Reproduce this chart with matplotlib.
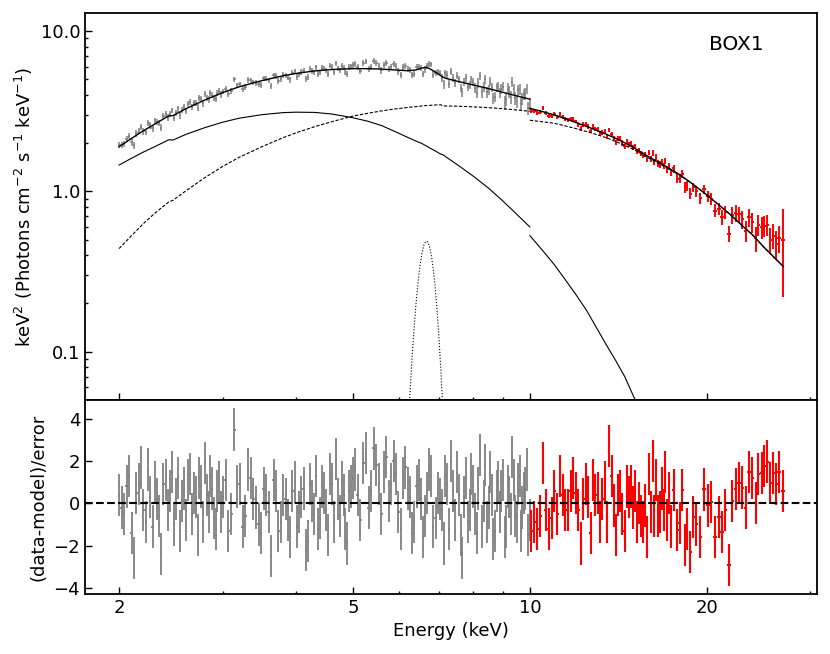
import matplotlib
matplotlib.use("Agg")
import matplotlib.pyplot as plt
import numpy as np
from matplotlib.ticker import FixedLocator, FixedFormatter, NullFormatter

# ---- model curves ----
# low-energy instrument (grey), 2-10 keV
mod_g_e = [2.0, 2.1, 2.2, 2.3, 2.43, 2.47, 2.6, 2.8, 3.0, 3.2, 3.5, 3.8, 4.0, 4.3, 4.6,
           5.0, 5.3, 5.6, 5.9, 6.2, 6.4, 6.55, 6.65, 6.75, 6.9, 7.05, 7.12, 7.2, 7.5,
           8.0, 8.5, 9.0, 9.5, 10.0]
mod_g_total = [1.90, 2.14, 2.39, 2.63, 2.96, 2.97, 3.28, 3.72, 4.13, 4.49, 4.91, 5.26, 5.44,
               5.64, 5.76, 5.83, 5.83, 5.79, 5.72, 5.66, 5.72, 5.88, 5.94, 5.84, 5.56, 5.28,
               5.15, 5.07, 4.88, 4.62, 4.38, 4.15, 3.94, 3.76]
mod_g_bb = [1.46, 1.61, 1.76, 1.90, 2.10, 2.09, 2.27, 2.50, 2.70, 2.86, 3.01, 3.10, 3.12,
            3.11, 3.04, 2.88, 2.74, 2.57, 2.36, 2.17, 2.06, 1.99, 1.93, 1.87, 1.79, 1.71,
            1.69, 1.64, 1.48, 1.25, 1.05, 0.87, 0.72, 0.60]
mod_g_cont = [0.44, 0.53, 0.63, 0.73, 0.86, 0.88, 1.01, 1.22, 1.43, 1.63, 1.90, 2.16, 2.32,
              2.53, 2.72, 2.95, 3.07, 3.18, 3.27, 3.34, 3.38, 3.41, 3.43, 3.44, 3.46, 3.47,
              3.42, 3.41, 3.40, 3.37, 3.33, 3.28, 3.22, 3.16]
line_e = [6.20, 6.25, 6.30, 6.35, 6.40, 6.45, 6.50, 6.55, 6.60, 6.65, 6.70, 6.75, 6.80,
          6.85, 6.90, 6.95, 7.00, 7.05, 7.10, 7.15]
line_f = [0.031, 0.054, 0.089, 0.136, 0.197, 0.268, 0.341, 0.409, 0.461, 0.488, 0.485,
          0.452, 0.397, 0.327, 0.253, 0.184, 0.126, 0.081, 0.049, 0.027]

# high-energy instrument (red), 10-27 keV
mod_r_e = [10.0, 10.5, 11.0, 11.5, 12.0, 12.5, 13.0, 13.5, 14.0, 14.5, 15.0, 15.5, 16.0,
           17.0, 18.0, 19.0, 20.0, 21.0, 22.0, 23.0, 24.0, 25.0, 26.0, 27.0]
mod_r_total = [3.30, 3.15, 3.00, 2.84, 2.68, 2.54, 2.40, 2.27, 2.14, 2.01, 1.88, 1.75, 1.63,
               1.44, 1.27, 1.10, 0.95, 0.82, 0.71, 0.61, 0.53, 0.45, 0.39, 0.34]
mod_r_cont = [2.78, 2.72, 2.66, 2.56, 2.46, 2.36, 2.26, 2.16, 2.05, 1.94, 1.83, 1.71, 1.60,
              1.42, 1.26, 1.10, 0.95, 0.82, 0.71, 0.61, 0.53, 0.45, 0.39, 0.34]
mod_r_bb_e = [10.0, 10.5, 11.0, 11.5, 12.0, 12.5, 13.0, 13.5, 14.0, 14.5, 15.0, 15.5]
mod_r_bb = [0.53, 0.43, 0.35, 0.28, 0.225, 0.18, 0.14, 0.11, 0.088, 0.07, 0.053, 0.041]

# ---- grey spectrum ----
gray_e = [2.00, 2.02, 2.04, 2.06, 2.08, 2.10, 2.12, 2.14, 2.16, 2.18,
          2.20, 2.22, 2.24, 2.26, 2.28, 2.30, 2.32, 2.34, 2.36, 2.38,
          2.40, 2.42, 2.44, 2.46, 2.48, 2.50, 2.52, 2.54, 2.56, 2.58,
          2.60, 2.62, 2.64, 2.66, 2.68, 2.70, 2.72, 2.74, 2.76, 2.78,
          2.80, 2.82, 2.84, 2.86, 2.88, 2.90, 2.92, 2.94, 2.96, 2.98,
          3.00, 3.035, 3.07, 3.105, 3.14, 3.175, 3.21, 3.245, 3.28, 3.315,
          3.35, 3.385, 3.42, 3.455, 3.49, 3.525, 3.56, 3.595, 3.63, 3.665,
          3.70, 3.735, 3.77, 3.805, 3.84, 3.875, 3.91, 3.945, 3.98, 4.015,
          4.05, 4.085, 4.12, 4.155, 4.19, 4.225, 4.26, 4.295, 4.33, 4.365,
          4.40, 4.435, 4.47, 4.505, 4.54, 4.575, 4.61, 4.645, 4.68, 4.715,
          4.75, 4.785, 4.82, 4.855, 4.89, 4.925, 4.96, 5.00,
          5.04, 5.095, 5.15, 5.205, 5.26, 5.315, 5.37, 5.425, 5.48, 5.535,
          5.59, 5.645, 5.70, 5.755, 5.81, 5.865, 5.92, 5.975, 6.03, 6.085,
          6.14, 6.195, 6.25, 6.305, 6.36, 6.415, 6.47, 6.525, 6.58, 6.635,
          6.69, 6.745, 6.80, 6.855, 6.91, 6.965, 7.02, 7.075, 7.13, 7.185,
          7.24, 7.295, 7.35, 7.405, 7.46, 7.515, 7.57, 7.625, 7.68, 7.735,
          7.79, 7.845, 7.90, 7.955, 8.01, 8.065, 8.12, 8.175, 8.23, 8.285,
          8.34, 8.395, 8.45, 8.505, 8.56, 8.615, 8.67, 8.725, 8.78, 8.835,
          8.89, 8.945, 9.00, 9.055, 9.11, 9.165, 9.22, 9.275, 9.33, 9.385,
          9.44, 9.495, 9.55, 9.605, 9.66, 9.715, 9.77, 9.825, 9.88, 9.935,
          9.99]
gray_flux = [1.95, 1.95, 1.97, 2.13, 2.23, 2.02, 1.94, 2.30, 2.39, 2.53,
             2.37, 2.35, 2.68, 2.58, 2.47, 2.77, 2.72, 2.68, 2.50, 2.96,
             3.03, 2.89, 3.05, 3.20, 2.88, 3.10, 3.29, 2.98, 3.22, 3.36,
             3.18, 3.51, 3.60, 3.36, 3.56, 3.57, 3.33, 3.81, 3.79, 3.55,
             4.06, 3.85, 3.75, 4.09, 4.02, 3.82, 3.77, 4.13, 4.24, 4.03,
             4.19, 4.38, 4.05, 4.24, 5.00, 4.59, 4.66, 4.35, 4.49, 4.95,
             4.93, 4.79, 4.76, 4.66, 4.62, 5.07, 5.05, 4.93, 4.55, 5.31,
             5.24, 4.89, 5.00, 5.31, 5.30, 5.13, 4.99, 5.50, 5.62, 5.19,
             5.37, 5.56, 5.66, 5.05, 5.16, 5.79, 5.63, 5.52, 5.94, 5.40,
             5.53, 5.89, 5.84, 5.68, 5.41, 6.09, 5.99, 5.58, 6.29, 5.86,
             5.68, 6.06, 5.92, 5.56, 5.40, 5.99, 6.04, 6.13,
             6.27, 5.95, 5.64, 6.34, 6.48, 5.78, 6.00, 6.50, 6.30, 6.03,
             5.68, 6.17, 6.34, 5.78, 5.96, 6.25, 6.05, 5.60, 5.34, 5.99,
             6.06, 5.84, 5.70, 5.33, 5.41, 5.94, 5.98, 5.90, 5.40, 5.77,
             6.08, 6.27, 6.19, 5.35, 5.47, 5.57, 5.50, 5.13, 4.66, 5.44,
             5.33, 4.67, 5.57, 5.09, 4.74, 5.27, 5.01, 4.41, 4.15, 4.83,
             5.10, 4.47, 4.62, 5.00, 4.83, 4.43, 4.13, 4.76, 5.26, 4.14,
             4.51, 4.99, 4.15, 4.32, 4.84, 4.45, 3.81, 3.89, 4.46, 4.53,
             4.11, 4.36, 4.50, 3.57, 3.75, 4.37, 4.20, 3.87, 4.82, 4.37,
             3.81, 3.66, 4.28, 4.34, 3.50, 3.80, 4.04, 4.06, 4.35, 3.30,
             3.53]
gray_err = [.086, .088, .090, .093, .095, .097, .099, .101, .104, .106,
            .108, .110, .113, .115, .117, .119, .122, .124, .126, .128,
            .130, .132, .134, .135, .136, .138, .140, .142, .144, .146,
            .149, .151, .153, .155, .157, .159, .161, .163, .165, .167,
            .168, .170, .172, .174, .176, .177, .179, .181, .183, .185,
            .166, .168, .171, .173, .176, .178, .180, .182, .184, .186,
            .188, .190, .192, .194, .196, .197, .199, .200, .202, .204,
            .205, .206, .208, .209, .210, .212, .213, .215, .216, .217,
            .218, .219, .220, .221, .222, .223, .224, .225, .226, .227,
            .228, .228, .229, .230, .230, .231, .231, .232, .232, .232,
            .233, .233, .233, .234, .234, .234, .234, .240,
            .263, .263, .263, .263, .263, .262, .263, .262, .262, .261,
            .261, .260, .260, .259, .258, .258, .256, .257, .254, .256,
            .253, .255, .253, .256, .254, .258, .257, .263, .262, .267,
            .268, .263, .263, .253, .254, .245, .245, .287, .286, .279,
            .279, .275, .276, .271, .273, .268, .270, .265, .266, .261,
            .263, .259, .259, .255, .255, .321, .321, .318, .317, .314,
            .314, .310, .310, .307, .307, .303, .303, .300, .300, .296,
            .296, .293, .293, .351, .352, .348, .349, .343, .345, .340,
            .342, .337, .338, .332, .334, .329, .330, .326, .326, .321,
            .322]
gray_resid = [0.4, -0.2, -0.5, 0.8, 1.3, -1.4, -2.6, 0.5, 0.9, 1.7,
              -0.3, -0.9, 1.6, 0.3, -1.1, 1.0, 0.2, -0.6, -2.4, 0.9,
              1.1, -0.3, 0.6, 1.5, -1.0, 0.2, 1.2, -1.3, 0.1, 0.7,
              -0.8, 1.1, 1.4, -0.5, 0.5, 0.3, -1.5, 1.2, 0.8, -0.9,
              1.9, 0.4, -0.4, 1.3, 0.7, -0.7, -1.2, 0.6, 1.0, -0.4,
              0.3, 1.1, -1.3, -0.5, 3.5, 0.8, 0.9, -1.1, -0.6, 1.6,
              1.2, 0.2, -0.2, -1.0, -1.4, 0.7, 0.4, -0.4, -2.5, 1.1,
              0.6, -1.3, -0.9, 0.4, 0.2, -0.8, -1.6, 0.6, 1.0, -1.1,
              -0.4, 0.3, 0.7, -2.2, -1.8, 0.9, 0.1, -0.5, 1.3, -1.2,
              -0.7, 0.8, 0.5, -0.3, -1.5, 1.4, 0.9, -0.9, 2.1, 0.2,
              -0.6, 1.0, 0.4, -1.2, -1.9, 0.6, 0.8, 1.2,
              1.6, 0.4, -0.8, 1.9, 2.4, -0.2, 0.6, 2.6, 1.8, 0.9,
              -0.5, 1.5, 2.2, 0.1, 0.9, 2.0, 1.4, -0.4, -1.2, 1.2,
              1.7, 0.7, 0.3, -1.4, -0.9, 0.8, 1.1, 0.2, -1.6, -0.6,
              0.5, 1.6, 1.3, -1.1, -0.7, 0.5, 0.2, -0.3, -1.9, 1.3,
              0.9, -1.2, 2.0, 0.6, -0.8, 1.5, 0.4, -1.5, -2.6, 0.3,
              1.2, -0.9, -0.3, 1.4, 0.8, -0.5, -1.4, 0.7, 2.3, -1.1,
              0.1, 1.8, -0.9, -0.2, 1.5, 0.4, -1.7, -1.3, 0.6, 1.0,
              -0.4, 0.6, 1.1, -1.6, -1.1, 0.8, 0.3, -0.5, 2.2, 1.1,
              -0.6, -0.9, 0.9, 1.3, -1.3, -0.2, 0.5, 0.7, 1.6, -1.5,
              -0.8]

# ---- red spectrum ----
red_e = [10.05, 10.17, 10.29, 10.41, 10.53, 10.65, 10.77, 10.89, 11.01, 11.13,
         11.25, 11.37, 11.49, 11.61, 11.73, 11.85, 11.97, 12.09, 12.21, 12.33,
         12.45, 12.57, 12.69, 12.81, 12.93, 13.05, 13.17, 13.29, 13.41, 13.53,
         13.65, 13.77, 13.89, 14.01, 14.13, 14.25, 14.37, 14.49, 14.61, 14.73,
         14.85, 14.97, 15.09, 15.21, 15.33, 15.45, 15.57, 15.69, 15.81, 15.93,
         16.05, 16.17, 16.29, 16.41, 16.53, 16.65, 16.77, 16.89, 17.01, 17.13,
         17.25, 17.37,
         17.57, 17.80, 17.99, 18.18, 18.37, 18.52, 18.76, 18.96, 19.20, 19.51,
         19.76, 20.08, 20.37, 20.64, 20.96, 21.24, 21.52, 21.83, 22.12, 22.40,
         22.70, 22.99, 23.29, 23.60, 23.91, 24.23, 24.48, 24.80, 25.06, 25.33,
         25.66, 25.93, 26.28, 26.55, 26.97]
red_flux = [3.17, 3.17, 3.10, 3.13, 3.31, 3.07, 2.97, 2.97, 3.05, 2.92,
            3.03, 2.91, 2.82, 2.78, 2.82, 2.82, 2.73, 2.62, 2.46, 2.61,
            2.62, 2.54, 2.38, 2.54, 2.45, 2.43, 2.29, 2.33, 2.36, 2.19,
            2.42, 2.29, 2.16, 2.02, 2.14, 2.13, 2.00, 1.91, 2.04, 1.97,
            1.98, 1.88, 1.90, 1.77, 1.80, 1.73, 1.68, 1.70, 1.58, 1.74,
            1.59, 1.74, 1.53, 1.63, 1.49, 1.47, 1.53, 1.44, 1.54, 1.37,
            1.43, 1.31,
            1.39, 1.20, 1.20, 1.29, 1.06, 1.09, 0.97, 1.06, 1.00, 0.91,
            1.03, 0.93, 0.90, 0.76, 0.78, 0.69, 0.74, 0.545, 0.71, 0.73,
            0.72, 0.67, 0.57, 0.69, 0.64, 0.51, 0.62, 0.60, 0.61, 0.62,
            0.50, 0.53, 0.47, 0.51, 0.50]
red_err = [.092, .091, .090, .089, .088, .087, .086, .085, .084, .083,
           .082, .081, .080, .078, .078, .076, .075, .085, .084, .083,
           .082, .081, .080, .078, .077, .076, .076, .074, .073, .072,
           .071, .070, .069, .081, .080, .079, .078, .076, .075, .074,
           .073, .072, .071, .070, .068, .067, .066, .065, .064, .063,
           .073, .072, .071, .070, .069, .068, .067, .066, .065, .064,
           .063, .062,
           .080, .078, .076, .075, .079, .077, .074, .072, .075, .071,
           .069, .075, .072, .070, .066, .071, .068, .063, .084, .087,
           .083, .085, .088, .090, .090, .090, .093, .093, .093, .095,
           .094, .095, .097, .097, .280]
red_resid = [-1.3, -0.9, -1.2, -0.6, 1.9, -0.3, -1.2, -0.7, 0.6, -0.5,
             1.3, 0.4, -0.3, -0.3, 0.6, 1.2, 0.5, -0.3, -1.9, 0.2,
             0.9, 0.3, -1.4, 1.1, 0.4, 0.5, -0.9, 0.2, 1.0, -0.9,
             2.7, 1.3, -0.1, -1.5, 0.4, 0.6, -0.5, -1.3, 0.8, 0.3,
             0.8, -0.2, 0.6, -0.9, 0.0, -0.6, -0.9, -0.1, -1.6, 1.4,
             -0.4, 2.0, -0.6, 1.1, -0.6, -0.4, 0.7, -0.3, 1.5, -0.8,
             0.5, -1.1,
             0.62, -1.25, -0.94, 0.65, -1.96, -1.21, -2.3, -0.65, -1.0, -1.6,
             0.66, -0.1, 0.06, -1.6, -0.66, -1.37, -0.3, -2.93, 0.1, 0.67,
             0.97, 0.75, -0.2, 1.47, 1.2, 0.0, 1.4, 1.45, 1.77, 1.98,
             0.97, 1.45, 0.93, 1.5, 0.57]

# bin half widths from neighbouring bin centres
gray_hw = np.gradient(np.array(gray_e)) / 2
red_hw = np.gradient(np.array(red_e)) / 2

fig = plt.figure(figsize=(8.3, 6.54), dpi=100)
ax1 = fig.add_axes([0.1024, 0.3884, 0.8819, 0.5916])
ax2 = fig.add_axes([0.1024, 0.0917, 0.8819, 0.2967], sharex=ax1)

# top panel: unfolded spectrum
ax1.errorbar(gray_e, gray_flux, yerr=gray_err, xerr=gray_hw, fmt="none",
             ecolor="gray", elinewidth=1.1, zorder=2)
ax1.errorbar(red_e, red_flux, yerr=red_err, xerr=red_hw, fmt="none",
             ecolor="red", elinewidth=1.4, zorder=2)

ax1.plot(mod_g_e, mod_g_total, color="black", lw=1.0, zorder=4)
ax1.plot(mod_g_e, mod_g_bb, color="black", lw=0.8, zorder=3)
ax1.plot(mod_g_e, mod_g_cont, color="black", lw=0.8, ls=(0, (3, 1.5)), zorder=3)
ax1.plot(line_e, line_f, color="black", lw=0.8, ls=":", zorder=3)
ax1.plot(mod_r_e, mod_r_total, color="black", lw=1.0, zorder=4)
ax1.plot(mod_r_e, mod_r_cont, color="black", lw=0.8, ls=(0, (3, 1.5)), zorder=3)
ax1.plot(mod_r_bb_e, mod_r_bb, color="black", lw=0.8, zorder=3)

ax1.set_xscale("log")
ax1.set_yscale("log")
ax1.set_xlim(1.75, 30.8)
ax1.set_ylim(0.05, 12.95)
ax1.yaxis.set_major_locator(FixedLocator([0.1, 1.0, 10.0]))
ax1.yaxis.set_major_formatter(FixedFormatter(["0.1", "1.0", "10.0"]))
ax1.set_ylabel(r"keV$^{2}$ (Photons cm$^{-2}$ s$^{-1}$ keV$^{-1}$)", fontsize=13)
ax1.text(0.89, 0.92, "BOX1", transform=ax1.transAxes, fontsize=14.5,
         ha="center", va="center")
ax1.tick_params(labelbottom=False)

# bottom panel: residuals
ax2.errorbar(gray_e, gray_resid, yerr=1.0, xerr=gray_hw, fmt="none",
             ecolor="gray", elinewidth=1.3, zorder=2)
ax2.errorbar(red_e, red_resid, yerr=1.0, xerr=red_hw, fmt="none",
             ecolor="red", elinewidth=1.5, zorder=2)
ax2.axhline(0, color="black", lw=1.5, ls="--", zorder=3)
ax2.set_ylim(-4.3, 4.9)
ax2.set_yticks([-4, -2, 0, 2, 4])
ax2.set_ylabel("(data-model)/error", fontsize=13)
ax2.set_xlabel("Energy (keV)", fontsize=13)

ax2.xaxis.set_major_locator(FixedLocator([2, 5, 10, 20]))
ax2.xaxis.set_major_formatter(FixedFormatter(["2", "5", "10", "20"]))
ax2.xaxis.set_minor_locator(FixedLocator([3, 4, 6, 7, 8, 9, 30]))
ax2.xaxis.set_minor_formatter(NullFormatter())

for ax in (ax1, ax2):
    ax.tick_params(which="both", direction="in", top=False, right=False,
                   labelsize=13, width=1.0)
    ax.tick_params(which="major", length=5)
    ax.tick_params(which="minor", length=2.5)
    for sp in ax.spines.values():
        sp.set_linewidth(1.3)

fig.savefig("out.png", dpi=100)
